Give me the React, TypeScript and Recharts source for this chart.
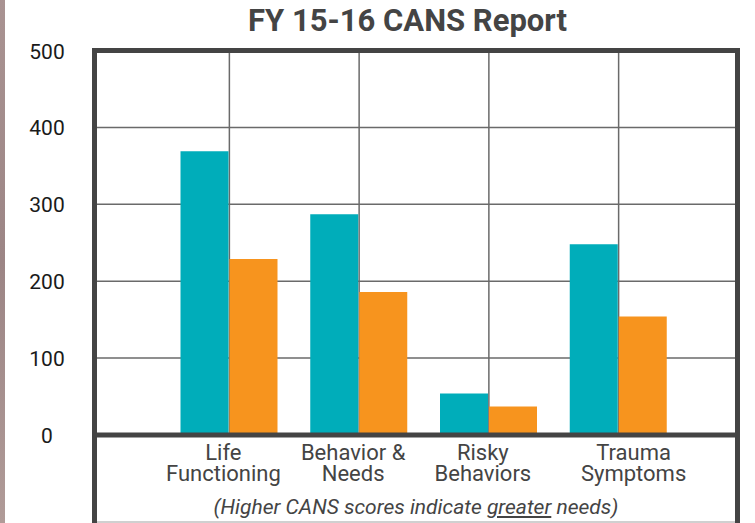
import { BarChart, Bar, XAxis, YAxis, CartesianGrid } from "recharts";

const categories = ["Life|Functioning", "Behavior &|Needs", "Risky|Behaviors", "Trauma|Symptoms"];
const firstValues = [369, 287, 54, 248];
const secondValues = [229, 186, 37, 154];
const yTicks = [0, 100, 200, 300, 400, 500];

const labelShift = [-6, -6, -6, 15];

const data = categories.map((name, i) => ({
  name,
  first: firstValues[i],
  second: secondValues[i],
}));

const font = "Roboto, 'Noto Sans', sans-serif";

const YTick = (props: any) => {
  const { y, payload } = props;
  return (
    <text x={47} y={y} dy={8} textAnchor="middle" fontSize={21} fontFamily={font} fill="#1a1a1a">
      {payload.value}
    </text>
  );
};

const XTick = (props: any) => {
  const { x, y, payload, index } = props;
  const lines = String(payload.value).split("|");
  const cx = x + (labelShift[index] || 0);
  return (
    <g>
      {lines.map((l: string, i: number) => (
        <text key={i} x={cx} y={y + 17 + i * 21} textAnchor="middle" fontSize={22} fontFamily={font} fill="#444">
          {l}
        </text>
      ))}
    </g>
  );
};

const App = () => {
  return (
    <div style={{ position: "fixed", left: 0, top: 0, width: 755, height: 523, background: "#fff", overflow: "hidden" }}>
      <div style={{ position: "absolute", left: 0, top: 0, width: 5, height: 523, background: "linear-gradient(#a99392, #9c8585, #b09b98)" }} />
      <div
        style={{
          position: "absolute",
          left: 0,
          width: 815,
          top: 2,
          textAlign: "center",
          fontFamily: font,
          fontWeight: 700,
          fontSize: 31,
          color: "#444",
        }}
      >
        FY 15-16 CANS Report
      </div>
      <div style={{ position: "absolute", left: 0, top: 0 }}>
        <BarChart
          width={755}
          height={523}
          data={data}
          margin={{ top: 50.5, right: 17.5, bottom: 0, left: 0 }}
          barSize={48}
          barGap={1}
        >
          <CartesianGrid stroke="#6a6a6a" strokeWidth={1.5} />
          <XAxis
            dataKey="name"
            height={88}
            padding={{ left: 70, right: 54 }}
            axisLine={{ stroke: "#444", strokeWidth: 5 }}
            tickLine={false}
            tick={<XTick />}
            interval={0}
          />
          <YAxis
            width={94.5}
            domain={[0, 500]}
            ticks={yTicks}
            axisLine={false}
            tickLine={false}
            tick={<YTick />}
          />
          <Bar dataKey="first" fill="#00adba" isAnimationActive={false} />
          <Bar dataKey="second" fill="#f7941e" isAnimationActive={false} />
        </BarChart>
      </div>
      <div
        style={{
          position: "absolute",
          left: 92,
          top: 48,
          width: 638,
          height: 480,
          border: "5px solid #444",
          borderBottom: "none",
        }}
      />
      <div style={{ position: "absolute", left: 97, top: 521, width: 638, height: 2, background: "#d0d0d0" }} />
      <div
        style={{
          position: "absolute",
          left: 97,
          width: 638,
          top: 495,
          textAlign: "center",
          fontFamily: font,
          fontStyle: "italic",
          fontSize: 21,
          color: "#444",
        }}
      >
        (Higher CANS scores indicate <span style={{ textDecoration: "underline" }}>greater</span> needs)
      </div>
    </div>
  );
};

export default App;
